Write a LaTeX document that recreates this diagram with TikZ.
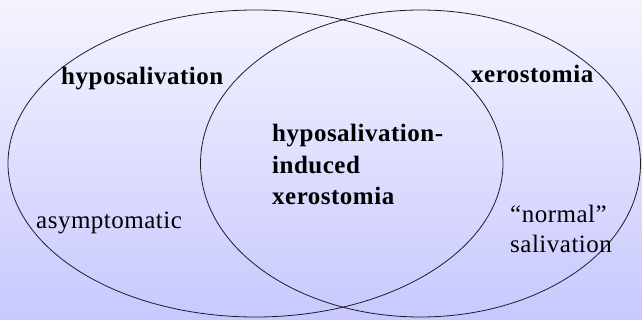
\documentclass[tikz,border=0pt]{standalone}
\usepackage{fontspec}
\setmainfont{Liberation Serif}[LetterSpace=2]
\usetikzlibrary{positioning}
\definecolor{bgtop}{RGB}{244,244,255}
\definecolor{bgbottom}{RGB}{200,200,255}
\definecolor{rim}{RGB}{30,30,30}

\begin{document}
\begin{tikzpicture}[x=1pt,y=-1pt,
  setname/.style={font=\fontsize{25}{31.5}\selectfont\bfseries,inner sep=0pt,anchor=base west,align=left},
  setnote/.style={font=\fontsize{25}{30}\selectfont,inner sep=0pt,anchor=base west,align=left}]
\useasboundingbox (0,0) rectangle (642,320);
\shade[top color=bgtop,bottom color=bgbottom] (0,0) rectangle (642,320);
% the two sets
\draw[rim,line width=0.8pt] (255.5,163.5) ellipse [x radius=247.5,y radius=153.5];
\draw[rim,line width=0.8pt] (420.5,163.5) ellipse [x radius=220,y radius=153.5];
% labels (multi-line ones sit on their last baseline)
\node[setname] (hypo) at (61,85) {hyposalivation};
\node[setname] (xero) at (471,83) {xerostomia};
\node[setname] (both) at (272,205) {hyposalivation-\\induced\\xerostomia};
\node[setnote] (asym) at (36,229) {asymptomatic};
\node[setnote] (normal) at (510,253) {“normal”\\salivation};
\end{tikzpicture}
\end{document}
